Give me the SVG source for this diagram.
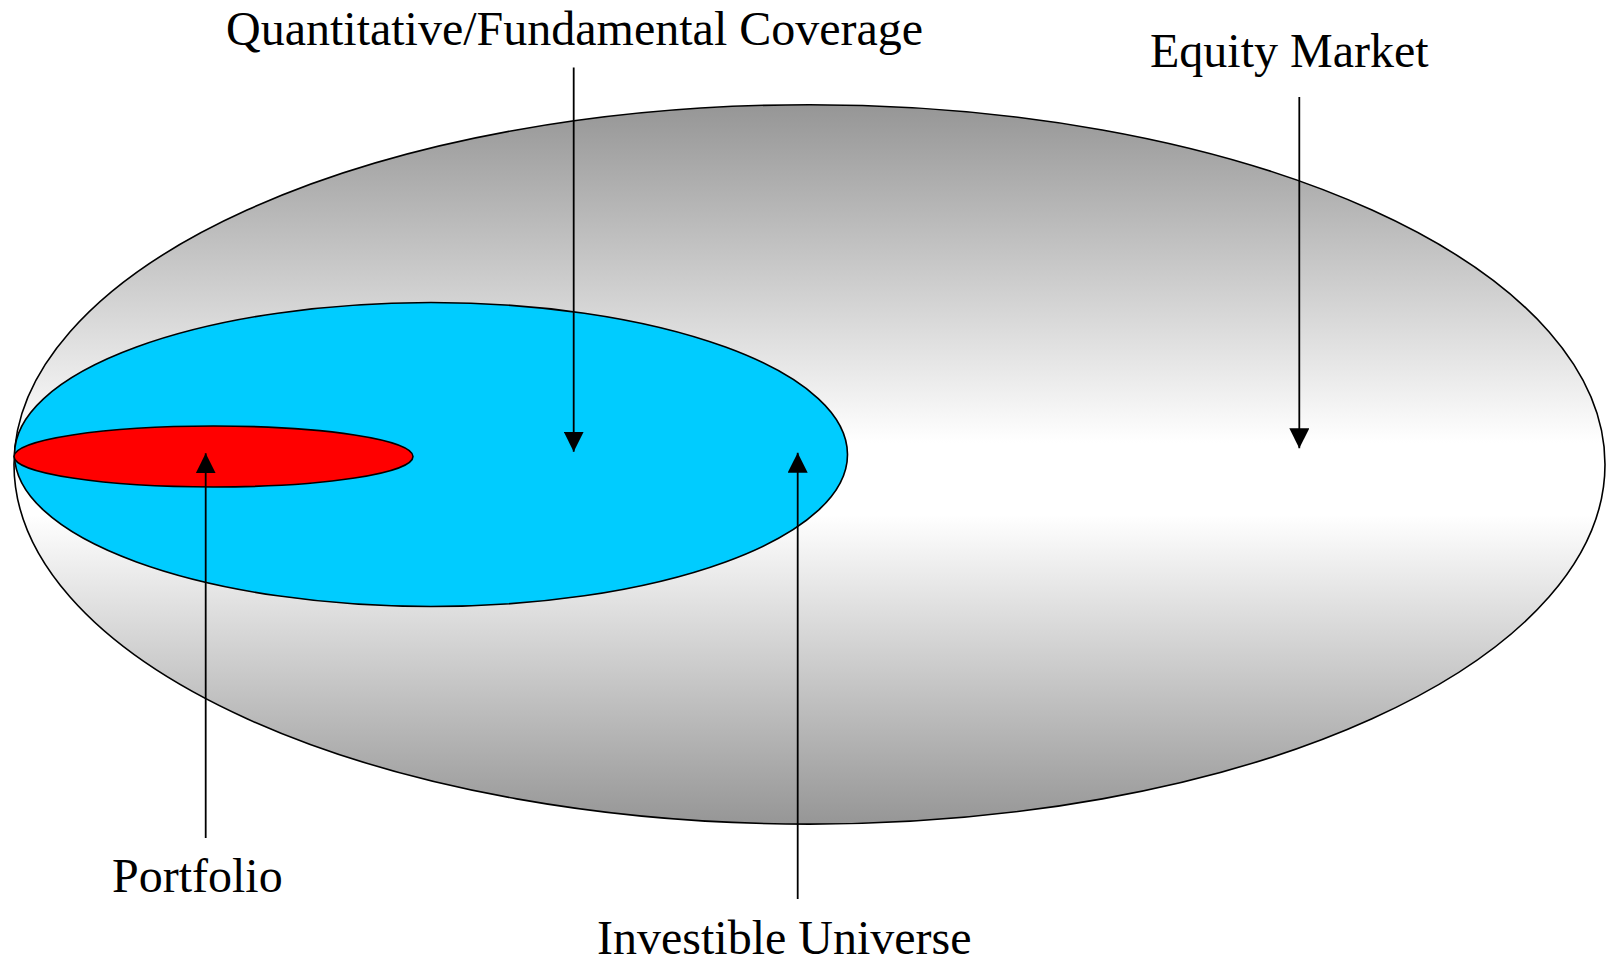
<svg xmlns="http://www.w3.org/2000/svg" width="1606" height="962" viewBox="0 0 1606 962">
<style>
  .lbl { font-family: "Liberation Serif", "Times New Roman", serif; font-size: 48px; fill: #000; }
  .shape { stroke: #000; stroke-width: 1.6; }
  .conn { stroke: #000; stroke-width: 1.8; fill: none; marker-end: url(#arrow); }
</style>
<defs>
  <linearGradient id="grayGrad" x1="0" y1="0" x2="0" y2="1">
    <stop offset="0" stop-color="#969696"/>
    <stop offset="0.47" stop-color="#ffffff"/>
    <stop offset="0.57" stop-color="#ffffff"/>
    <stop offset="1" stop-color="#969696"/>
  </linearGradient>
  <marker id="arrow" markerUnits="userSpaceOnUse" markerWidth="20" markerHeight="20" viewBox="0 0 20 20" refX="20" refY="10" orient="auto">
    <path d="M0,0 L20,10 L0,20 z" fill="#000"/>
  </marker>
</defs>
<rect width="1606" height="962" fill="#fff"/>
<g id="equity-market">
  <ellipse class="shape" cx="809.5" cy="464.4" rx="795.5" ry="359.7" fill="url(#grayGrad)"/>
</g>
<g id="coverage">
  <ellipse class="shape" cx="431" cy="454.5" rx="416.5" ry="152" fill="#00CCFF"/>
</g>
<g id="portfolio">
  <ellipse class="shape" cx="213.5" cy="456.5" rx="199.5" ry="30.5" fill="#FF0000"/>
</g>
<g id="labels">
  <text id="label-coverage" class="lbl" x="226" y="45">Quantitative/Fundamental Coverage</text>
  <text id="label-equity" class="lbl" x="1150" y="66.7">Equity Market</text>
  <text id="label-portfolio" class="lbl" x="112" y="892">Portfolio</text>
  <text id="label-universe" class="lbl" x="597" y="954">Investible Universe</text>
</g>
<g id="connectors">
  <line class="conn" x1="573.7" y1="67.5" x2="573.7" y2="451.7"/>
  <line class="conn" x1="1299.3" y1="97" x2="1299.3" y2="448.3"/>
  <line class="conn" x1="205.7" y1="838" x2="205.7" y2="453.3"/>
  <line class="conn" x1="797.7" y1="899" x2="797.7" y2="452.7"/>
</g>
</svg>
